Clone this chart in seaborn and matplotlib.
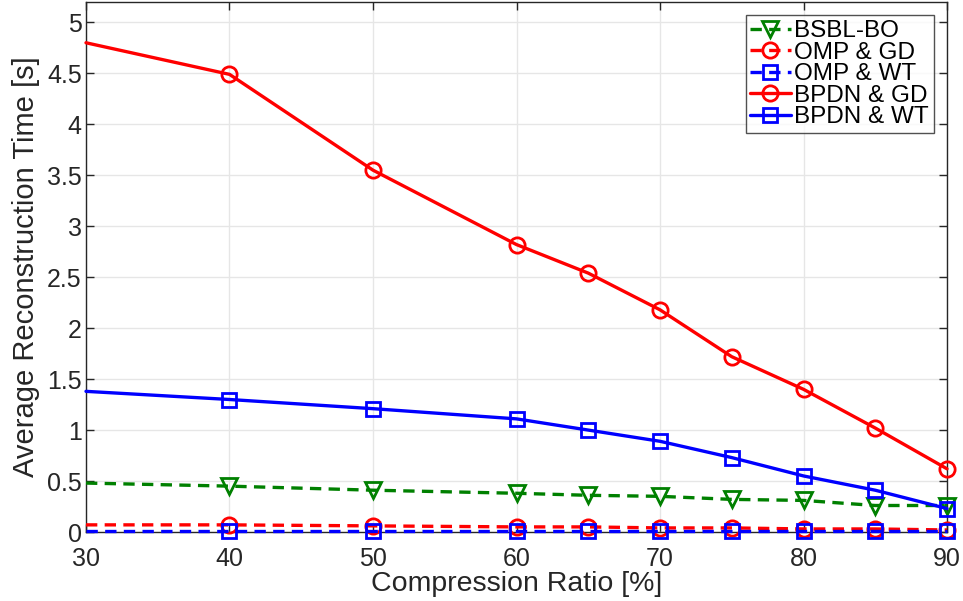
import numpy as np
import pandas as pd
import matplotlib
matplotlib.use("Agg")
import matplotlib.pyplot as plt
import seaborn as sns

# Compression ratios [%]
ratio = [30, 40, 50, 60, 65, 70, 75, 80, 85, 90]

# Average reconstruction time [s] per method
bsbl_bo = [0.48, 0.45, 0.41, 0.38, 0.36, 0.35, 0.32, 0.31, 0.26, 0.26]
omp_gd = [0.07, 0.07, 0.06, 0.05, 0.05, 0.04, 0.04, 0.03, 0.03, 0.02]
omp_wt = [0.01, 0.01, 0.01, 0.01, 0.01, 0.01, 0.01, 0.01, 0.01, 0.01]
bpdn_gd = [4.80, 4.49, 3.55, 2.82, 2.54, 2.18, 1.72, 1.40, 1.02, 0.62]
bpdn_wt = [1.38, 1.30, 1.21, 1.11, 1.00, 0.89, 0.73, 0.55, 0.41, 0.23]

x_ticks = [30, 40, 50, 60, 70, 80, 90]
y_ticks = [0, 0.5, 1, 1.5, 2, 2.5, 3, 3.5, 4, 4.5, 5]

sns.set_theme(style="whitegrid")
plt.rcParams["font.family"] = ["Liberation Sans", "DejaVu Sans"]

fig = plt.figure(figsize=(9.63, 6.01), dpi=100)
ax = fig.add_axes([86 / 963, 1 - 532 / 601, (947 - 86) / 963, (532 - 2) / 601])

series = [
    ("BSBL-BO", bsbl_bo, "#008000", "v", True),
    ("OMP & GD", omp_gd, "#ff0000", "o", True),
    ("OMP & WT", omp_wt, "#0000ff", "s", True),
    ("BPDN & GD", bpdn_gd, "#ff0000", "o", False),
    ("BPDN & WT", bpdn_wt, "#0000ff", "s", False),
]

for name, vals, color, marker, dashed in series:
    df = pd.DataFrame({"ratio": ratio, "time": vals})
    sns.lineplot(
        data=df, x="ratio", y="time", ax=ax, color=color, label=name,
        marker=marker, markersize=11 if marker != "s" else 10,
        markeredgewidth=2.0,
        markerfacecolor="none", markeredgecolor=color,
        linewidth=2.4, markevery=list(range(1, len(ratio))),
        clip_on=False, zorder=3,
    )
    ln = ax.lines[-1]
    if dashed:
        ln.set_dashes((3.4, 2.2))

ax.set_xlim(30, 90)
ax.set_ylim(0, 5.2)
ax.set_xticks(x_ticks)
ax.set_yticks(y_ticks)
ax.set_yticklabels([f"{v:g}" for v in y_ticks])

ax.grid(True, color="#e6e6e6", linewidth=1.0)
for side in ["left", "bottom", "right", "top"]:
    ax.spines[side].set_visible(True)
    ax.spines[side].set_color("#262626")
    ax.spines[side].set_linewidth(1.0)

ax.tick_params(axis="both", which="major", direction="in", length=6, width=1,
               colors="#262626", labelsize=18, top=True, right=True,
               left=True, bottom=True)
ax.tick_params(axis="y", pad=3)
ax.tick_params(axis="x", pad=10.5)

ax.set_xlabel("Compression Ratio [%]", fontsize=20.5, color="#262626", labelpad=0.5)
ax.set_ylabel("Average Reconstruction Time [s]", fontsize=21, color="#262626", labelpad=5)

leg = ax.legend(loc="upper right", fontsize=17.5,
                frameon=True, fancybox=False, edgecolor="#262626",
                handlelength=1.65, handletextpad=0.15, labelspacing=-0.02,
                borderpad=0.2, borderaxespad=0.55)
leg.get_frame().set_linewidth(1.0)
leg.set_zorder(5)
for t in leg.get_texts():
    t.set_color("black")

fig.savefig("out.png", dpi=100)
